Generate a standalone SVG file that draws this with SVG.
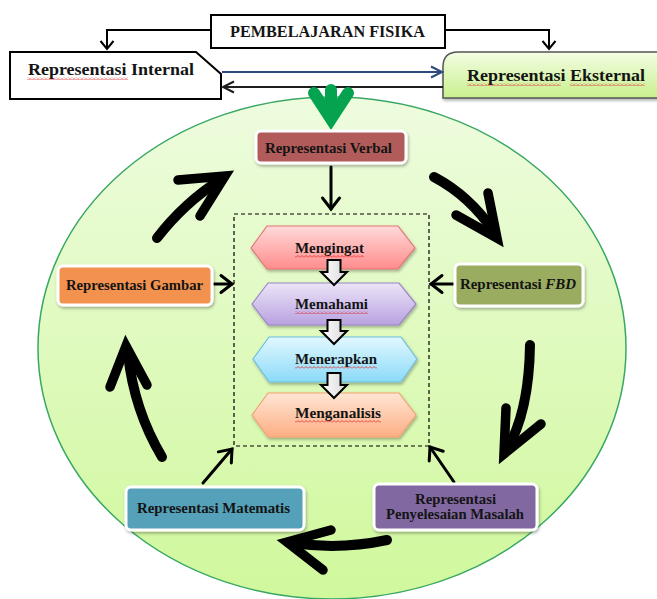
<svg xmlns="http://www.w3.org/2000/svg" width="657" height="599" viewBox="0 0 657 599">
<style>
.t{font-family:"Liberation Serif","Times New Roman",serif;font-weight:bold;fill:#141414}
.t16{font-size:16px}
.t15{font-size:15px}
.node{stroke:#ffffff;stroke-width:3}
.thin{fill:none;stroke:#000;stroke-width:3;stroke-linecap:round}
.small{fill:none;stroke:#000;stroke-width:2}
.big{fill:none;stroke:#000;stroke-width:10;stroke-linecap:round}
.head{fill:none;stroke:#000;stroke-width:9.5;stroke-linecap:round;stroke-linejoin:miter;stroke-miterlimit:10}
.hex{stroke-width:1.2}
.blk{fill:url(#gBlk);stroke:#000;stroke-width:2;stroke-linejoin:miter}
.sq{fill:url(#squig)}
</style>
<defs>
<linearGradient id="gEll" x1="0" y1="0" x2="0" y2="1">
<stop offset="0" stop-color="#eefcdf"/><stop offset="1" stop-color="#d0f89c"/>
</linearGradient>
<linearGradient id="gExt" x1="0" y1="0" x2="0" y2="1">
<stop offset="0" stop-color="#f3fde3"/><stop offset="1" stop-color="#c9f08e"/>
</linearGradient>
<linearGradient id="gPink" x1="0" y1="0" x2="0" y2="1">
<stop offset="0" stop-color="#ffdada"/><stop offset="1" stop-color="#ff8c8c"/>
</linearGradient>
<linearGradient id="gLav" x1="0" y1="0" x2="0" y2="1">
<stop offset="0" stop-color="#ece4f8"/><stop offset="1" stop-color="#b8a2e0"/>
</linearGradient>
<linearGradient id="gBlue" x1="0" y1="0" x2="0" y2="1">
<stop offset="0" stop-color="#e2f8ff"/><stop offset="1" stop-color="#8bdaf8"/>
</linearGradient>
<linearGradient id="gPeach" x1="0" y1="0" x2="0" y2="1">
<stop offset="0" stop-color="#ffe6d4"/><stop offset="1" stop-color="#fdae84"/>
</linearGradient>
<linearGradient id="gBlk" x1="0" y1="0" x2="1" y2="0">
<stop offset="0" stop-color="#ffffff"/><stop offset="1" stop-color="#d8d8d8"/>
</linearGradient>
<filter id="sh" x="-10%" y="-10%" width="130%" height="140%">
<feDropShadow dx="1" dy="2" stdDeviation="1.5" flood-color="#000" flood-opacity="0.3"/>
</filter>
<pattern id="squig" patternUnits="userSpaceOnUse" width="4" height="3">
<path d="M0,2.5 L2,0.5 L4,2.5" fill="none" stroke="#e02020" stroke-width="0.8"/>
</pattern>
<marker id="ch" markerUnits="userSpaceOnUse" viewBox="-16 -11 20 22" refX="0" refY="0" markerWidth="20" markerHeight="22" orient="auto" overflow="visible">
<path d="M-11,-8.5 L0,0 L-11,8.5" fill="none" stroke="#000" stroke-width="3" stroke-linecap="round" stroke-linejoin="miter"/>
</marker>
<marker id="chs" markerUnits="userSpaceOnUse" viewBox="-12 -8 14 16" refX="0" refY="0" markerWidth="14" markerHeight="16" orient="auto" overflow="visible">
<path d="M-8,-6.5 L0,0 L-8,6.5" fill="none" stroke="#000" stroke-width="2"/>
</marker>
<marker id="chb" markerUnits="userSpaceOnUse" viewBox="-14 -8 16 16" refX="0" refY="0" markerWidth="16" markerHeight="16" orient="auto" overflow="visible">
<path d="M-11,-5.5 L0,0 L-11,5.5" fill="none" stroke="#2c4a7c" stroke-width="2"/>
</marker>
<marker id="chk" markerUnits="userSpaceOnUse" viewBox="-14 -8 16 16" refX="0" refY="0" markerWidth="16" markerHeight="16" orient="auto" overflow="visible">
<path d="M-11,-5.5 L0,0 L-11,5.5" fill="none" stroke="#1e1e1e" stroke-width="2"/>
</marker>
</defs>

<rect width="657" height="599" fill="#ffffff"/>

<g id="background-ellipse">
<ellipse cx="332" cy="348" rx="294" ry="251" fill="url(#gEll)" stroke="#3aa864" stroke-width="1.5"/>
</g>

<g id="pembelajaran-fisika">
<rect x="211" y="15" width="234" height="33" fill="#fff" stroke="#000" stroke-width="2"/>
<text class="t t16" x="230" y="37" textLength="195" lengthAdjust="spacingAndGlyphs">PEMBELAJARAN  FISIKA</text>
</g>

<g id="representasi-internal">
<polygon points="10,52 196,52 221,74 221,99 10,99" fill="#fff" stroke="#000" stroke-width="2"/>
<text class="t t16" x="28" y="75" textLength="166" lengthAdjust="spacingAndGlyphs">Representasi Internal</text>
<rect class="sq" x="27" y="77" width="101" height="3"/>
</g>

<g id="representasi-eksternal">
<path d="M458,52 H664 V98 H443 V67 Q443,52 458,52 Z" fill="url(#gExt)" stroke="#555" stroke-width="1.5" filter="url(#sh)"/>
<text class="t t16" x="467" y="81" textLength="178" lengthAdjust="spacingAndGlyphs">Representasi Eksternal</text>
<rect class="sq" x="467" y="83" width="94" height="3"/>
<rect class="sq" x="570" y="83" width="75" height="3"/>
</g>

<g id="connectors">
<path class="small" d="M211,30 H107 V49" marker-end="url(#chs)"/>
<path class="small" d="M445,30 H549 V49" marker-end="url(#chs)"/>
<line x1="222" y1="72" x2="442" y2="72" stroke="#2c4a7c" stroke-width="2" marker-end="url(#chb)"/>
<line x1="443" y1="87" x2="223" y2="87" stroke="#1e1e1e" stroke-width="2" marker-end="url(#chk)"/>
<g id="green-arrow" fill="none" stroke="#05a34f" stroke-width="12" stroke-linecap="round" stroke-linejoin="miter" stroke-miterlimit="10">
<path d="M331,90 V118"/>
<path d="M314,93 L331,119 L348,93"/>
</g>
<line class="thin" x1="331" y1="167" x2="331" y2="209" marker-end="url(#ch)"/>
<line class="thin" x1="214" y1="284" x2="232" y2="284" marker-end="url(#ch)"/>
<line class="thin" x1="453" y1="284" x2="431" y2="284" marker-end="url(#ch)"/>
<line class="thin" x1="203" y1="483" x2="232" y2="449" marker-end="url(#ch)"/>
<line class="thin" x1="454" y1="482" x2="430" y2="447" marker-end="url(#ch)"/>
<g id="cycle-arrows">
<path class="big" d="M157,238 Q184,203 220,180"/>
<path class="head" d="M178,180 L225,176 L200,216"/>
<path class="big" d="M434,177 Q470,196 494,232"/>
<path class="head" d="M488,193 L497,238 L456,215"/>
<path class="big" d="M530,345 Q529,412 507,449"/>
<path class="head" d="M506,408 L504,454 L541,424"/>
<path class="big" d="M387,540 Q340,550 293,543"/>
<path class="head" d="M331,530 L287,542 L323,570"/>
<path class="big" d="M162,457 Q134,410 128,354"/>
<path class="head" d="M110,387 L126,346 L147,385"/>
</g>
</g>

<g id="dashed-frame">
<rect x="234" y="214" width="195" height="232" fill="none" stroke="#000" stroke-width="1.2" stroke-dasharray="4 3"/>
</g>

<g id="representasi-verbal">
<rect class="node" x="256" y="131" width="150" height="32" rx="5" fill="#b15c5a" filter="url(#sh)"/>
<text class="t t15" x="265" y="153" textLength="127" lengthAdjust="spacingAndGlyphs">Representasi Verbal</text>
</g>

<g id="representasi-gambar">
<rect class="node" x="58" y="266" width="154" height="39" rx="5" fill="#f39150" filter="url(#sh)"/>
<text class="t t15" x="66" y="290" textLength="137" lengthAdjust="spacingAndGlyphs">Representasi  Gambar</text>
</g>

<g id="representasi-fbd">
<rect class="node" x="455" y="264" width="128" height="42" rx="5" fill="#9aac60" filter="url(#sh)"/>
<text class="t t15" x="460" y="289" textLength="116" lengthAdjust="spacingAndGlyphs">Representasi <tspan font-style="italic">FBD</tspan></text>
</g>

<g id="representasi-matematis">
<rect class="node" x="126" y="487" width="178" height="43" rx="5" fill="#54a1b9" filter="url(#sh)"/>
<text class="t t15" x="137" y="513" textLength="153" lengthAdjust="spacingAndGlyphs">Representasi  Matematis</text>
</g>

<g id="representasi-penyelesaian-masalah">
<rect class="node" x="374" y="484" width="163" height="46" rx="5" fill="#8167a1" filter="url(#sh)"/>
<text class="t t15" x="415" y="504" textLength="81" lengthAdjust="spacingAndGlyphs">Representasi</text>
<text class="t t15" x="386" y="519" textLength="138" lengthAdjust="spacingAndGlyphs">Penyelesaian Masalah</text>
</g>

<g id="mengingat">
<polygon class="hex" points="251,248 267,226 398,226 415,248 398,269 267,269" fill="url(#gPink)" stroke="#e27575" filter="url(#sh)"/>
<text class="t t15" x="295" y="253" textLength="69" lengthAdjust="spacingAndGlyphs">Mengingat</text>
<rect class="sq" x="295" y="255" width="69" height="3"/>
</g>

<g id="memahami">
<polygon class="hex" points="252,304 268,283 399,283 416,304 399,325 268,325" fill="url(#gLav)" stroke="#9b84c8" filter="url(#sh)"/>
<text class="t t15" x="295" y="309" textLength="73" lengthAdjust="spacingAndGlyphs">Memahami</text>
<rect class="sq" x="295" y="311" width="73" height="3"/>
</g>

<g id="menerapkan">
<polygon class="hex" points="253,359 269,337 401,337 417,359 401,382 269,382" fill="url(#gBlue)" stroke="#6cbfdf" filter="url(#sh)"/>
<text class="t t15" x="295" y="364" textLength="82" lengthAdjust="spacingAndGlyphs">Menerapkan</text>
<rect class="sq" x="295" y="366" width="82" height="3"/>
</g>

<g id="menganalisis">
<polygon class="hex" points="252,415 268,393 399,393 416,415 399,437 268,437" fill="url(#gPeach)" stroke="#f3a070" filter="url(#sh)"/>
<text class="t t15" x="295" y="418" textLength="86" lengthAdjust="spacingAndGlyphs">Menganalisis</text>
<rect class="sq" x="295" y="420" width="86" height="3"/>
</g>

<g id="block-arrows">
<path class="blk" d="M327.5,260 H340.5 V272 H347 L334,285 L321,272 H327.5 Z"/>
<path class="blk" d="M327.5,320 H340.5 V331 H347 L334,344 L321,331 H327.5 Z"/>
<path class="blk" d="M327.5,373 H340.5 V385 H347 L334,398 L321,385 H327.5 Z"/>
</g>
</svg>
